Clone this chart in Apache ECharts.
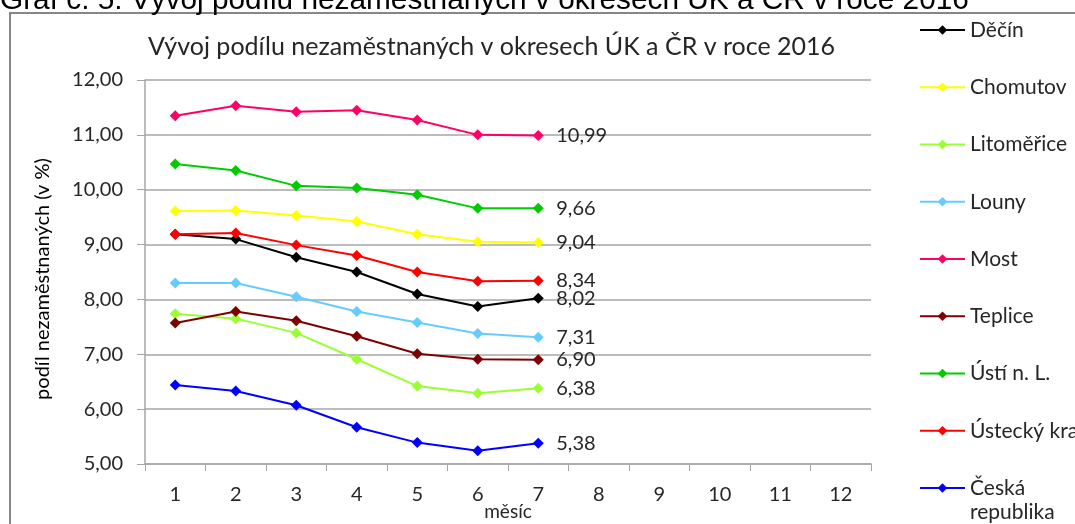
<!DOCTYPE html>
<html>
<head>
<meta charset="utf-8">
<script src="https://cdn.jsdelivr.net/npm/echarts@6/dist/echarts.min.js"></script>
<style>
  html, body { margin: 0; padding: 0; background: #fff; }
  #chart { width: 1075px; height: 524px; }
</style>
</head>
<body>
<div id="chart"></div>
<script>
// měsíce
const months = ['1', '2', '3', '4', '5', '6', '7', '8', '9', '10', '11', '12']
// podíl nezaměstnaných (v %), leden až červenec 2016
const decin = [9.19, 9.10, 8.77, 8.50, 8.10, 7.87, 8.02]
const chomutov = [9.61, 9.62, 9.53, 9.42, 9.19, 9.05, 9.04]
const litomerice = [7.74, 7.65, 7.39, 6.91, 6.42, 6.29, 6.38]
const louny = [8.30, 8.30, 8.05, 7.78, 7.58, 7.38, 7.31]
const most = [11.35, 11.53, 11.42, 11.45, 11.27, 11.00, 10.99]
const teplice = [7.57, 7.78, 7.61, 7.33, 7.01, 6.91, 6.90]
const ustiNL = [10.47, 10.35, 10.07, 10.03, 9.91, 9.66, 9.66]
const ustecky = [9.19, 9.21, 8.99, 8.80, 8.50, 8.33, 8.34]
const ceskaRep = [6.44, 6.33, 6.07, 5.67, 5.39, 5.24, 5.38]

const seriesDefs = [
  { name: 'Děčín', data: decin, color: '#000000' },
  { name: 'Chomutov', data: chomutov, color: '#ffff00' },
  { name: 'Litoměřice', data: litomerice, color: '#99ff33' },
  { name: 'Louny', data: louny, color: '#66ccff' },
  { name: 'Most', data: most, color: '#ff0066' },
  { name: 'Teplice', data: teplice, color: '#7f0000' },
  { name: 'Ústí n. L.', data: ustiNL, color: '#00cc00' },
  { name: 'Ústecký kraj', data: ustecky, color: '#ff0000' },
  { name: 'Česká republika', data: ceskaRep, color: '#0000ff' }
]

const fmt = v => v.toFixed(2).replace('.', ',')
const font = 'Lato, "Noto Sans", sans-serif'

let myChart = echarts.init(document.getElementById('chart'))

myChart.setOption({
  animation: false,
  textStyle: { fontFamily: font },
  title: {
    text: 'Vývoj podílu nezaměstnaných v okresech ÚK a ČR v roce 2016',
    left: 148,
    top: 34,
    padding: 0,
    textStyle: { fontFamily: font, fontSize: 25, fontWeight: 'normal', color: '#262626' }
  },
  graphic: [
    {
      type: 'rect',
      shape: { x: 10, y: 13, width: 1200, height: 700 },
      style: { fill: 'none', stroke: '#868686', lineWidth: 2 },
      z: -1
    },
    {
      type: 'text',
      x: 0,
      y: 1,
      style: {
        text: 'Graf č. 5: Vývoj podílu nezaměstnaných v okresech ÚK a ČR v roce 2016',
        font: '29.8px "Liberation Sans", Arial, sans-serif',
        fill: '#000',
        verticalAlign: 'middle'
      }
    }
  ],
  legend: [
    {
      orient: 'vertical',
      left: 919,
      top: 19.5,
      padding: 0,
      itemWidth: 45,
      itemHeight: 12,
      itemGap: 36.25,
      data: seriesDefs.slice(0, 8).map(s => s.name),
      textStyle: { fontFamily: font, fontSize: 21, lineHeight: 21, color: '#262626' }
    },
    {
      orient: 'vertical',
      left: 919,
      top: 452,
      padding: 0,
      itemWidth: 45,
      itemHeight: 12,
      data: ['Česká republika'],
      // prázdný první řádek, aby "Česká" leželo na úrovni ikony
      formatter: () => '\nČeská\nrepublika',
      textStyle: { fontFamily: font, fontSize: 21, lineHeight: 24, color: '#262626' }
    }
  ],
  grid: {
    left: 145,
    right: 204,
    top: 80,
    height: 384,
    outerBoundsMode: 'none'
  },
  xAxis: {
    type: 'category',
    data: months,
    boundaryGap: true,
    name: 'měsíc',
    nameLocation: 'middle',
    nameGap: 38,
    nameMoveOverlap: false,
    nameTextStyle: { fontFamily: font, fontSize: 19, color: '#262626' },
    axisLine: { show: true, lineStyle: { color: '#a6a6a6', width: 1.5 } },
    axisTick: { show: true, interval: 0, length: 7, lineStyle: { color: '#a6a6a6' } },
    axisLabel: { interval: 0, margin: 21, fontFamily: font, fontSize: 20, color: '#262626' },
    splitLine: { show: false }
  },
  yAxis: {
    type: 'value',
    min: 5,
    max: 12,
    interval: 1,
    name: 'podíl nezaměstnaných (v %)',
    nameLocation: 'middle',
    nameGap: 92,
    nameTextStyle: { fontFamily: font, fontSize: 20, color: '#000', padding: [0, 14, 0, 0] },
    axisLine: { show: true, lineStyle: { color: '#a6a6a6', width: 1.5 } },
    axisTick: { show: true, length: 8, lineStyle: { color: '#a6a6a6' } },
    axisLabel: { margin: 22, fontFamily: font, fontSize: 20, color: '#262626', formatter: fmt },
    splitLine: { show: true, lineStyle: { color: '#a6a6a6', width: 1.5 } }
  },
  series: seriesDefs.map(s => ({
    name: s.name,
    type: 'line',
    data: s.data,
    color: s.color,
    symbol: 'diamond',
    symbolSize: 11,
    lineStyle: { width: 2, color: s.color },
    itemStyle: { color: s.color },
    endLabel: {
      show: true,
      distance: 18,
      fontFamily: font,
      fontSize: 20,
      color: '#262626',
      formatter: p => fmt(p.value)
    }
  }))
})
</script>
</body>
</html>
